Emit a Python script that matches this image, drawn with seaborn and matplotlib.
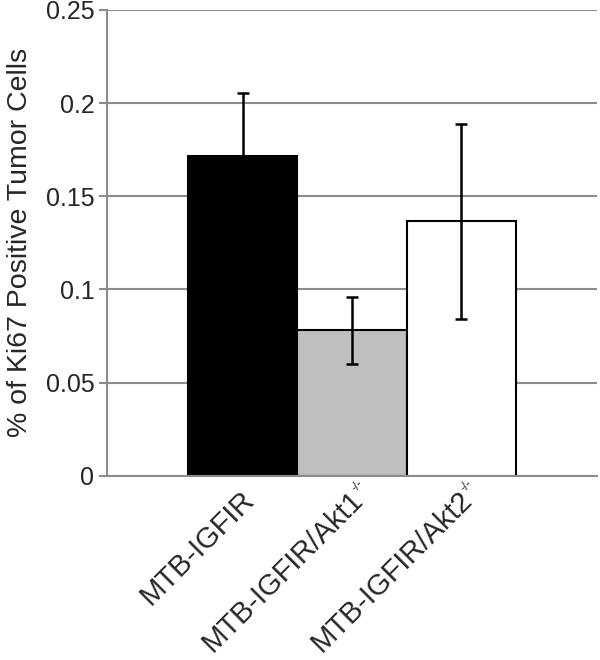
import numpy as np
import pandas as pd
import seaborn as sns
import matplotlib.pyplot as plt
from matplotlib import ticker, transforms

# Dados
groups = ["MTB-IGFIR", "MTB-IGFIR/Akt1", "MTB-IGFIR/Akt2"]
superscripts = ["", "-/-", "-/-"]
values = [0.1717, 0.0780, 0.1366]
errors = [0.0336, 0.0180, 0.0523]
bar_colors = ["#000000", "#bfbfbf", "#ffffff"]
yticks = [0, 0.05, 0.1, 0.15, 0.2, 0.25]
ytick_labels = ["0", "0.05", "0.1", "0.15", "0.2", "0.25"]

df = pd.DataFrame({"group": groups, "value": values, "err": errors})

sns.set_style("white")
plt.rcParams["font.family"] = ["Liberation Sans", "DejaVu Sans"]

fig = plt.figure(figsize=(6, 6.6), dpi=100)
ax = fig.add_axes([0.178, 0.279, 0.817, 0.706])

# Grade horizontal por trás das barras
ax.set_axisbelow(True)
ax.yaxis.grid(True, color="#8c8c8c", linewidth=1.5)

sns.barplot(data=df, x="group", y="value", hue="group", palette=bar_colors,
            legend=False, width=1.0, edgecolor="black", linewidth=1.5,
            ax=ax, zorder=2)

ax.errorbar(np.arange(len(values)), df["value"], yerr=df["err"], fmt="none",
            ecolor="black", elinewidth=1.8, capsize=4.5, capthick=1.8, zorder=3)

ax.set_ylim(0, 0.25)
ax.set_xlim(-1.243, 3.243)
ax.set_yticks(yticks)
ax.yaxis.set_major_formatter(ticker.FixedFormatter(ytick_labels))
ax.tick_params(axis="y", which="both", left=True, length=6, width=1.5,
               color="#8c8c8c", labelsize=18, pad=3)
ax.tick_params(axis="x", bottom=False, length=0, labelsize=21, pad=7)
plt.setp(ax.get_xticklabels(), rotation=45, ha="right", rotation_mode="anchor")

ax.set_xlabel("")
ax.set_ylabel("% of Ki67 Positive Tumor Cells", fontsize=20.5, labelpad=9)

for side in ["top", "right"]:
    ax.spines[side].set_visible(False)
for side in ["left", "bottom"]:
    ax.spines[side].set_color("#8c8c8c")
    ax.spines[side].set_linewidth(1.5)

# Ajusta a posição dos rótulos e põe o sobrescrito -/- pequeno
fig.canvas.draw()
shift = transforms.ScaledTranslation(-3 / 100, 0, fig.dpi_scale_trans)
for lab, sup in zip(ax.get_xticklabels(), superscripts):
    tr = lab.get_transform() + shift
    lab.set_transform(tr)
    if sup:
        ax.text(*lab.get_position(), sup, transform=tr, fontsize=9,
                rotation=45, rotation_mode="anchor", ha="left", va="top")

fig.savefig("out.png", dpi=100)
